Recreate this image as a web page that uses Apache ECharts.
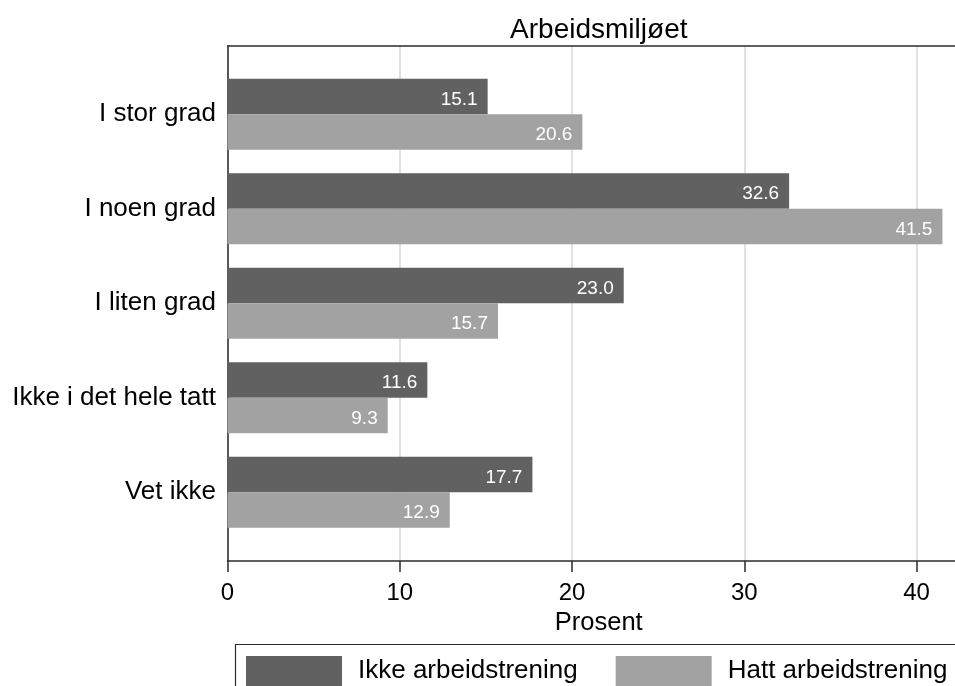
<!DOCTYPE html>
<html>
<head>
<meta charset="utf-8">
<script src="https://cdn.jsdelivr.net/npm/echarts@6/dist/echarts.min.js"></script>
<style>
html,body{margin:0;padding:0;background:#fff;}
#chart{width:955px;height:686px;}
</style>
</head>
<body>
<div id="chart"></div>
<script>
const titleText = 'Arbeidsmiljøet';
const categories = ['I stor grad', 'I noen grad', 'I liten grad', 'Ikke i det hele tatt', 'Vet ikke'];
const seriesNames = ['Ikke arbeidstrening', 'Hatt arbeidstrening'];
const ikkeArbeidstrening = [15.1, 32.6, 23.0, 11.6, 17.7];
const hattArbeidstrening = [20.6, 41.5, 15.7, 9.3, 12.9];
const axisName = 'Prosent';

const FONT = '"Liberation Sans", Arial, Helvetica, sans-serif';
const AX_MAX = 43.1;
const dark = '#616161';
const light = '#a2a2a2';
const lineCol = '#2b2b2b';

const chart = echarts.init(document.getElementById('chart'), null, {renderer: 'canvas'});

const labelOpt = {
  show: true,
  position: 'insideRight',
  distance: 10,
  offset: [0, 3],
  color: '#ffffff',
  fontSize: 19,
  fontFamily: FONT,
  formatter: p => p.value.toFixed(1)
};

const option = {
  animation: false,
  backgroundColor: '#ffffff',
  textStyle: {fontFamily: FONT},
  title: {
    text: titleText,
    left: 598.8,
    top: 16,
    textAlign: 'center',
    padding: 0,
    textStyle: {fontSize: 28, fontWeight: 'normal', color: '#000', fontFamily: FONT}
  },
  legend: {
    data: seriesNames,
    left: 246,
    top: 656,
    padding: 0,
    orient: 'horizontal',
    icon: 'rect',
    itemWidth: 96,
    itemHeight: 30,
    itemGap: 38,
    textStyle: {fontSize: 26, color: '#000', fontFamily: FONT, padding: [0, 0, 0, 11]}
  },
  graphic: [{
    type: 'rect',
    shape: {x: 235.5, y: 644.5, width: 800, height: 100},
    style: {fill: 'none', stroke: lineCol, lineWidth: 1.2},
    silent: true,
    z: -1
  }],
  grid: [
    {left: 227.5, width: 742.5, top: 46, height: 515, outerBoundsMode: 'none', containLabel: false},
    {left: 227.5, width: 742.5, top: 67, height: 472.5, outerBoundsMode: 'none', containLabel: false}
  ],
  xAxis: [
    {
      gridIndex: 0, type: 'value', min: 0, max: AX_MAX, interval: 10, position: 'bottom',
      axisLine: {show: true, lineStyle: {color: lineCol, width: 1.5}},
      axisTick: {show: true, length: 11, lineStyle: {color: lineCol, width: 1.5}},
      axisLabel: {fontSize: 24, color: '#000', margin: 20, showMaxLabel: false, fontFamily: FONT},
      splitLine: {show: true, lineStyle: {color: '#e1e1e1', width: 2}},
      name: axisName, nameLocation: 'middle', nameGap: 41,
      nameTextStyle: {fontSize: 25.5, color: '#000', fontFamily: FONT}
    },
    {
      gridIndex: 0, type: 'value', min: 0, max: AX_MAX, position: 'top',
      axisLine: {show: true, lineStyle: {color: lineCol, width: 1.5}},
      axisTick: {show: false}, axisLabel: {show: false}, splitLine: {show: false}
    },
    {
      gridIndex: 1, type: 'value', min: 0, max: AX_MAX, show: false, splitLine: {show: false}
    }
  ],
  yAxis: [
    {
      gridIndex: 0, type: 'value', min: 0, max: 1,
      axisLine: {show: true, lineStyle: {color: lineCol, width: 1.5}},
      axisTick: {show: false}, axisLabel: {show: false}, splitLine: {show: false}
    },
    {
      gridIndex: 1, type: 'category', data: categories, inverse: true,
      axisLine: {show: false}, axisTick: {show: false}, splitLine: {show: false},
      axisLabel: {fontSize: 26, color: '#000', margin: 11.5, fontFamily: FONT, padding: [6, 0, 0, 0]}
    }
  ],
  series: [
    {
      name: seriesNames[0], type: 'bar', xAxisIndex: 2, yAxisIndex: 1,
      data: ikkeArbeidstrening, barWidth: 35.5, barGap: '0%',
      itemStyle: {color: dark}, label: labelOpt
    },
    {
      name: seriesNames[1], type: 'bar', xAxisIndex: 2, yAxisIndex: 1,
      data: hattArbeidstrening, barWidth: 35.5, barGap: '0%',
      itemStyle: {color: light}, label: labelOpt
    }
  ]
};
chart.setOption(option);
</script>
</body>
</html>
